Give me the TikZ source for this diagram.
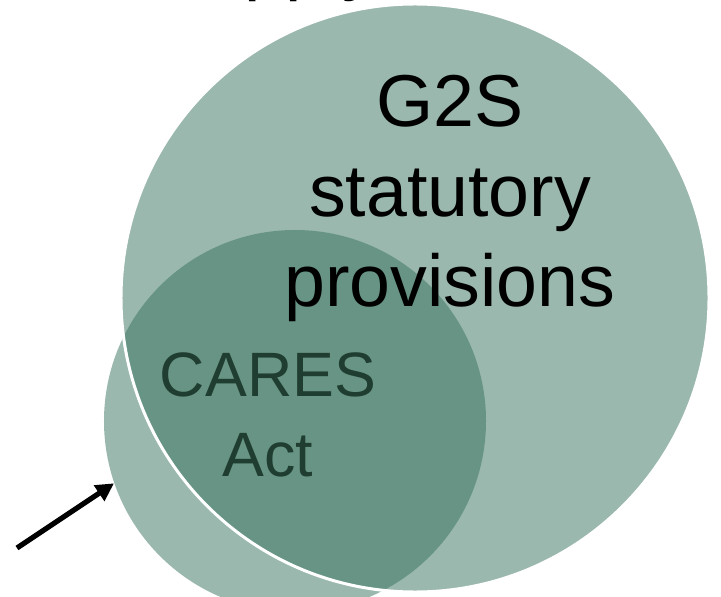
\documentclass[tikz,border=0pt]{standalone}
\usepackage{fontspec}
\setmainfont{Liberation Sans}
\usepackage{tikz}
\usetikzlibrary{arrows.meta}
\definecolor{sage}{RGB}{53,113,91}
\definecolor{deepgreen}{RGB}{31,61,48}

\begin{document}
\begin{tikzpicture}[x=0.5bp,y=-0.5bp,
  blob/.style={circle, inner sep=0pt, fill=sage, fill opacity=0.5},
  big/.style={font=\fontsize{36.75bp}{45bp}\selectfont, align=center},
  mid/.style={font=\fontsize{31.35bp}{40bp}\selectfont, align=center, text=deepgreen},
  pointer/.style={-{Triangle[length=9bp,width=9bp]}, line width=2.6bp}]
\useasboundingbox (0,0) rectangle (721,597);
\node [big, anchor=base west] (head) at (197,-13) {apply};
\node [blob, minimum size=191bp] (cares) at (295,421) {};
\node [blob, minimum size=294bp, draw=white, line width=1.5bp, draw opacity=1] (gtwos) at (415,298) {};
\node [big] (gtext) at (450,198) {G2S\\statutory\\provisions};
\node [mid] (ctext) at (268,415) {CARES\\Act};
\coordinate (tail) at (17,548);
\draw [pointer] (tail) -- (cares.199);
\end{tikzpicture}
\end{document}
